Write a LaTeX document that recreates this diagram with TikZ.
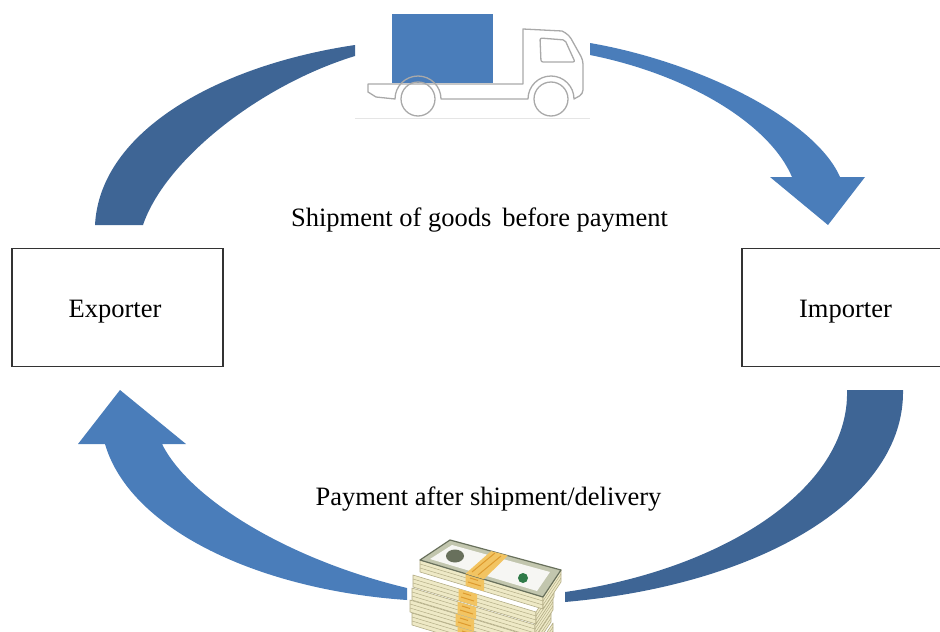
\documentclass[tikz,border=0pt]{standalone}
\usepackage{fontspec}
\setmainfont{Liberation Serif}
\definecolor{arrowlight}{HTML}{4A7DBA}
\definecolor{arrowdark}{HTML}{3E6595}
\definecolor{truckblue}{HTML}{4A7DBA}
\definecolor{truckgrey}{HTML}{A9A9A9}
\definecolor{billedge}{HTML}{EEE9C6}
\definecolor{billline}{HTML}{B3AD86}
\definecolor{billface}{HTML}{C2C6AE}
\definecolor{billdark}{HTML}{68705C}
\definecolor{bandgold}{HTML}{F2C462}
\definecolor{bandorange}{HTML}{DE9A2E}
\definecolor{sealgreen}{HTML}{2F7A48}
\begin{document}
\begin{tikzpicture}[x=1pt,y=-1pt,
  box/.style={draw=black!80,line width=1.6pt,fill=white,inner sep=0pt},
  lbl/.style={font=\fontsize{26.5}{30}\selectfont,anchor=base,inner sep=0pt},
  truckline/.style={draw=truckgrey,line width=1.3pt,line join=round},
  bundleface/.style={fill=billedge,draw=billline,line width=0.6pt,line join=round},
]
\useasboundingbox (0,0) rectangle (940,632);
\clip (0,0) rectangle (940,632);

% trading parties
\node[box,minimum width=211pt,minimum height=118pt] (exporter) at (117.5,307.5) {};
\node[box,minimum width=210pt,minimum height=118pt] (importer) at (847,307.5) {};
\node[lbl] (exportername) at (115,317) {Exporter};
\node[lbl] (importername) at (845.5,317) {Importer};

% captions
\node[lbl] (shiplabel) at (479.5,226.5) {Shipment of goods\, before payment};
\node[lbl] (paylabel) at (488.5,505) {Payment after shipment/delivery};

% upper flow: goods travel from exporter to importer
\fill[arrowdark] (95,225) .. controls (100,130) and (220,65) .. (355,45)
  -- (355,56) .. controls (260,85) and (165,160) .. (143,225) -- cycle;
\fill[arrowlight] (590,43) .. controls (700,62) and (815,120) .. (840,177)
  -- (865,177) -- (828,225) -- (770,177) -- (792,177)
  .. controls (770,125) and (690,75) .. (590,55) -- cycle;

% lower flow: payment returns from importer to exporter
\fill[arrowdark] (903,390) .. controls (905,500) and (760,585) .. (565,602)
  -- (565,592) .. controls (720,570) and (850,490) .. (847,390) -- cycle;
\fill[arrowlight] (407,600) .. controls (260,590) and (130,530) .. (105,444)
  -- (78,444) -- (120,390) -- (186,444) -- (162,444)
  .. controls (190,500) and (290,560) .. (407,588) -- cycle;

% truck
\fill[truckblue] (392,14) rectangle (493,83);
\draw[truckline] (368,84) -- (523,84) -- (523,29) -- (562,31)
  [rounded corners=4pt] -- (569,35) -- (583,60) -- (583,94) [sharp corners] -- (574,99)
  arc[start angle=0,end angle=-180,radius=23] -- (441,99)
  arc[start angle=0,end angle=-180,radius=23] -- (376,97) -- (368,92) -- cycle;
\draw[truckline,rounded corners=2pt] (540,38) -- (565,40) -- (575,62) -- (541,62) -- cycle;
\draw[truckline] (418,99) circle[radius=17];
\draw[truckline] (551,99) circle[radius=17];
\draw[black!10,line width=1pt] (355,118) -- (590,118);

% stack of banknote bundles, drawn from the bottom up
\foreach \dx/\dy in {-8/53,-10/40,-8/28,-7/15,0/0}{
  \begin{scope}[shift={(\dx,\dy)}]
    \fill[bundleface] (420,560) -- (543,597) -- (543,609) -- (420,572) -- cycle;
    \fill[bundleface] (543,597) -- (561,570) -- (561,582) -- (543,609) -- cycle;
    \draw[billline,line width=0.5pt] (420,564) -- (543,601) (420,568) -- (543,605);
    \draw[billline,line width=0.5pt] (543,601) -- (561,574) (543,605) -- (561,578);
    \fill[bandgold] (465.5,573.7) -- (484,579.2) -- (484,591.2) -- (465.5,585.7) -- cycle;
    \draw[bandorange,line width=1pt] (470,578) -- (478,580.5) (468,582) -- (481,586);
  \end{scope}
}
% banknote on top of the stack
\fill[billface,draw=billdark,line width=1.2pt,line join=round]
  (420,560) -- (450,540) -- (561,570) -- (543,597) -- cycle;
\fill[white!85!billface] (430,559) -- (452,545) -- (550,572) -- (537,591) -- cycle;
\fill[billdark] (455,556) ellipse[x radius=9,y radius=6.5];
\fill[sealgreen] (523,578) circle[radius=5];
\fill[bandgold] (465.5,573.7) -- (491.1,551.1) -- (507.7,555.6) -- (484,579.2) -- cycle;
\draw[bandorange,line width=1pt] (472,572) -- (495,553) (478,575) -- (501,556);
\end{tikzpicture}
\end{document}
